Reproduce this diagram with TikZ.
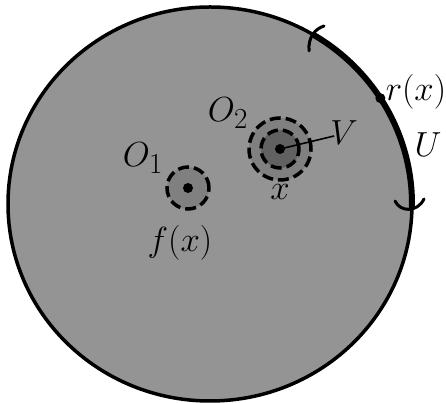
\documentclass[tikz,border=0pt]{standalone}
\usepackage{graphicx}
\usetikzlibrary{calc}
\newcommand{\biglab}[1]{\scalebox{1.4}{\Huge$#1$}}
\begin{document}
\begin{tikzpicture}[x=1pt,y=1pt,
  lbl/.style={inner sep=0pt},
  dashcirc/.style={draw=black,line width=3.5pt,dash pattern=on 11pt off 5pt},
  dotpt/.style={circle,fill=black,inner sep=0pt,minimum size=10pt},
  brk/.style={line width=3pt,line cap=round}]
\useasboundingbox (0,0) rectangle (446,403);
\definecolor{bg}{gray}{0.58}
\definecolor{ring}{gray}{0.50}
\definecolor{core}{gray}{0.38}
% big disc
\coordinate (C) at (210,199);
\filldraw[fill=bg,draw=black,line width=3.5pt] (C) ellipse [x radius=202, y radius=197];
% thick arc U
\draw[line width=6pt] ($(C)+(59:202 and 197)$) arc [start angle=59, end angle=-1.2, x radius=202, y radius=197];
% brackets at the ends of U
\coordinate (bt1) at (324,377);
\coordinate (bt2) at (309,352);
\draw[brk] (bt1) .. controls (315,374) and (308,366) .. (bt2);
\coordinate (bb1) at (395,202);
\coordinate (bb2) at (424,204);
\draw[brk] (bb1) .. controls (400,191) and (417,190) .. (bb2);
% r(x) point
\node[dotpt] (rx) at ($(C)+(32.5:202 and 197)$) {};
% neighbourhood of x
\coordinate (X) at (280,254);
\fill[ring] (X) circle (31);
\fill[core] (X) circle (19);
\draw[dashcirc] (X) circle (31);
\draw[dashcirc] (X) circle (19);
\node[dotpt] (xdot) at (X) {};
% neighbourhood of f(x)
\coordinate (F) at (188,215);
\fill[ring] (F) circle (21);
\draw[dashcirc] (F) circle (21);
\node[dotpt] (fdot) at (F) {};
% labels
\node[lbl] (lrx) at (416,311) {\biglab{r(x)}};
\node[lbl] (lU) at (428,258) {\biglab{U}};
\node[lbl] (lV) at (344,270) {\biglab{V}};
\node[lbl] (lO2) at (228,290) {\biglab{O_2}};
\node[lbl] (lO1) at (143,245) {\biglab{O_1}};
\node[lbl] (lx) at (280,211) {\biglab{x}};
\node[lbl] (lfx) at (180,160) {\biglab{f(x)}};
\draw[line width=1.6pt] (xdot.center) -- ($(lV.west)+(4,-3)$);
\end{tikzpicture}
\end{document}
